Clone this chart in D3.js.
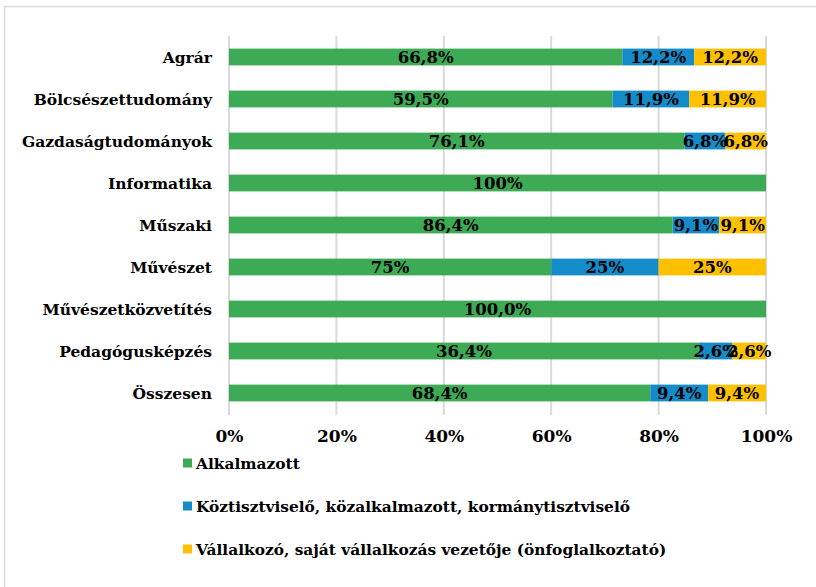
<!DOCTYPE html>
<html><head><meta charset="utf-8">
<script src="https://cdn.jsdelivr.net/npm/d3@7"></script>
<style>
html,body{margin:0;padding:0;background:#fff;}
svg text{font-family:"DejaVu Serif","Liberation Serif",serif;font-weight:bold;fill:#000;}
</style></head>
<body><svg id="c" width="816" height="587"></svg>
<script>
const categories = ["Agrár","Bölcsészettudomány","Gazdaságtudományok","Informatika","Műszaki","Művészet","Művészetközvetítés","Pedagógusképzés","Összesen"];
const seriesNames = ["Alkalmazott","Köztisztviselő, közalkalmazott, kormánytisztviselő","Vállalkozó, saját vállalkozás vezetője (önfoglalkoztató)"];
const alkalmazott = [66.8,59.5,76.1,100,86.4,75,100,36.4,68.4];
const koztisztviselo = [12.2,11.9,6.8,0,9.1,25,0,2.6,9.4];
const vallalkozo = [12.2,11.9,6.8,0,9.1,25,0,2.6,9.4];
const labelText = [
  ["66,8%","59,5%","76,1%","100%","86,4%","75%","100,0%","36,4%","68,4%"],
  ["12,2%","11,9%","6,8%","","9,1%","25%","","2,6%","9,4%"],
  ["12,2%","11,9%","6,8%","","9,1%","25%","","2,6%","9,4%"]
];
const tickValues = [0,0.2,0.4,0.6,0.8,1];
const tickLabels = ["0%","20%","40%","60%","80%","100%"];
const colors = ["#3DAA56","#168BC9","#FFC000"];

const svg = d3.select("#c");
// outer border
svg.append("rect").attr("x",4.5).attr("y",6.5).attr("width",830).attr("height",600)
  .attr("fill","none").attr("stroke","#d9d9d9").attr("stroke-width",1.5);

const x = d3.scaleLinear().domain([0,1]).range([229,766]);
const y = d3.scaleBand().domain(categories).range([36,414]).paddingInner(0.6).paddingOuter(0.3);

const rows = categories.map((c,i)=>({cat:c, s0:alkalmazott[i], s1:koztisztviselo[i], s2:vallalkozo[i]}));
const stack = d3.stack().keys(["s0","s1","s2"]).offset(d3.stackOffsetExpand);
const layers = stack(rows);

// gridlines
svg.append("g").selectAll("line").data(tickValues).join("line")
  .attr("x1",d=>x(d)).attr("x2",d=>x(d)).attr("y1",36).attr("y2",415)
  .attr("stroke","#d9d9d9").attr("stroke-width",2);

// bars
const g = svg.append("g");
layers.forEach((layer,k)=>{
  g.append("g").selectAll("rect").data(layer).join("rect")
    .attr("x",d=>x(d[0])).attr("width",d=>Math.max(0,x(d[1])-x(d[0])))
    .attr("y",d=>y(d.data.cat)).attr("height",y.bandwidth())
    .attr("fill",colors[k]);
});
// labels
layers.forEach((layer,k)=>{
  g.append("g").selectAll("text").data(layer).join("text")
    .attr("x",d=>(x(d[0])+x(d[1]))/2).attr("y",d=>y(d.data.cat)+y.bandwidth()/2)
    .attr("dy","0.38em").attr("text-anchor","middle").attr("font-size",16.5)
    .text((d,i)=>labelText[k][i]);
});

// category axis labels
svg.append("g").selectAll("text").data(categories).join("text")
  .attr("x",212).attr("y",d=>y(d)+y.bandwidth()/2).attr("dy","0.36em")
  .attr("text-anchor","end").attr("font-size",15.5).text(d=>d);

// x axis
const xAxis = d3.axisBottom(x).tickValues(tickValues).tickFormat((d,i)=>tickLabels[i]).tickSize(0).tickPadding(0);
const ax = svg.append("g").attr("transform","translate(0,431)").call(xAxis);
ax.select(".domain").remove();
ax.selectAll("text").attr("font-size",17).attr("dy","0.62em")
  .style("font-family",'"DejaVu Serif","Liberation Serif",serif').style("font-weight","bold").attr("fill","#000");

// legend
const lg = svg.append("g").selectAll("g").data(seriesNames).join("g")
  .attr("transform",(d,i)=>`translate(183,${463+i*43})`);
lg.append("rect").attr("x",0).attr("y",-4.5).attr("width",9).attr("height",9).attr("fill",(d,i)=>colors[i]);
lg.append("text").attr("x",13).attr("y",0).attr("dy","0.36em").attr("font-size",15.4).text(d=>d);
</script></body></html>
